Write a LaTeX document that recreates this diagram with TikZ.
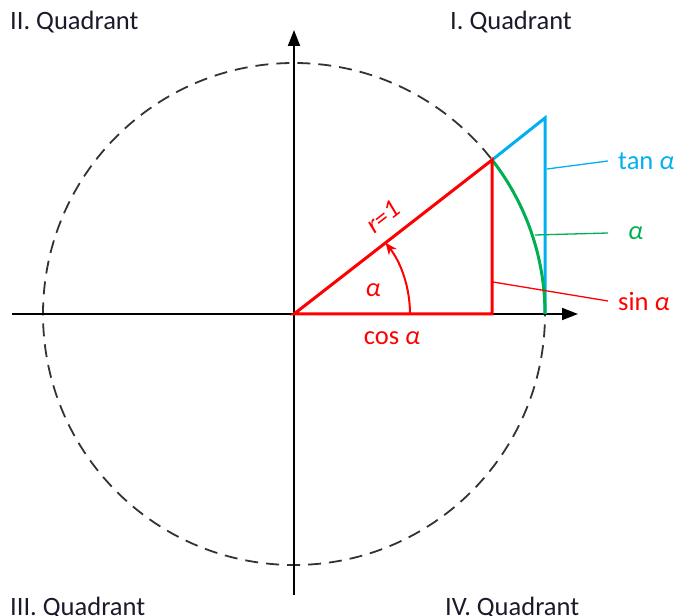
\documentclass[tikz,border=0pt]{standalone}
\usepackage{fontspec}
\setmainfont{Carlito}
\usetikzlibrary{arrows.meta,calc}
\definecolor{cred}{HTML}{FF0000}
\definecolor{cblue}{HTML}{00B0F0}
\definecolor{cgreen}{HTML}{00B050}
\definecolor{ctext}{HTML}{1A1A2A}
\begin{document}
\begin{tikzpicture}[x=1pt,y=1pt,
  lbl/.style={font=\fontsize{26.5}{30}\selectfont, inner sep=0pt},
  leader/.style={line width=1.3pt},
  axis/.style={line width=1.8pt, -{Triangle[length=16pt,width=12pt]}},
  thick3/.style={line width=3pt}]
\useasboundingbox (0,0) rectangle (675,616);
% coordinates
\coordinate (O) at (294,302);
\coordinate (P) at (492,456);
\coordinate (F) at (492,302);
\coordinate (Q) at (545,302);
\coordinate (T) at (545,498);
\coordinate (A) at (410,302);
\coordinate (xl) at (12,302);
\coordinate (xr) at (578,302);
\coordinate (yb) at (294,21);
\coordinate (yt) at (294,586);
% circle
\draw[line width=1.8pt, black!80, dash pattern=on 13pt off 8pt] (O) circle[radius=251];
% axes
\draw[axis] (xl) -- (xr);
\draw[axis] (yb) -- (yt);
% tangent
\draw[cblue, thick3, line join=miter] (P) -- (T) -- (Q);
% arc alpha
\draw[cgreen, thick3] (Q) arc[start angle=0, end angle=37.9, radius=251];
% triangle
\draw[cred, thick3] (O) -- (P) -- (F) -- cycle;
% angle arc
\draw[cred, line width=2pt, -{Stealth[length=12pt,width=10pt]}] (A) arc[start angle=0, end angle=37.9, radius=116];
% labels
\node[lbl, text=ctext, anchor=base west] (q2) at (10,586) {II. Quadrant};
\node[lbl, text=ctext, anchor=base west] (q1) at (450,586) {I. Quadrant};
\node[lbl, text=ctext, anchor=base west] (q3) at (10,1) {III. Quadrant};
\node[lbl, text=ctext, anchor=base west] (q4) at (445,1) {IV. Quadrant};
\node[lbl, text=cred] (cos) at (392,278) {cos \textit{α}};
\node[lbl, text=cred] (al) at (373,326) {\textit{α}};
\node[lbl, text=cred, rotate=37.9] (r) at (383,399) {\textit{r=1}};
\node[lbl, text=cblue, anchor=west, inner xsep=10pt] (tan) at (608,455) {tan \textit{α}};
\node[lbl, text=cgreen, anchor=west, inner xsep=20pt] (alg) at (608,383) {\textit{α}};
\node[lbl, text=cred, anchor=west, inner xsep=10pt] (sin) at (608,315) {sin \textit{α}};
% leaders
\coordinate (lt) at (547,447);
\coordinate (lg) at (535,381);
\coordinate (ls) at (493,334);
\draw[cblue, leader] (lt) -- (tan.west);
\draw[cgreen, leader] (lg) -- (alg.west);
\draw[cred, leader] (ls) -- (sin.west);
\end{tikzpicture}
\end{document}
